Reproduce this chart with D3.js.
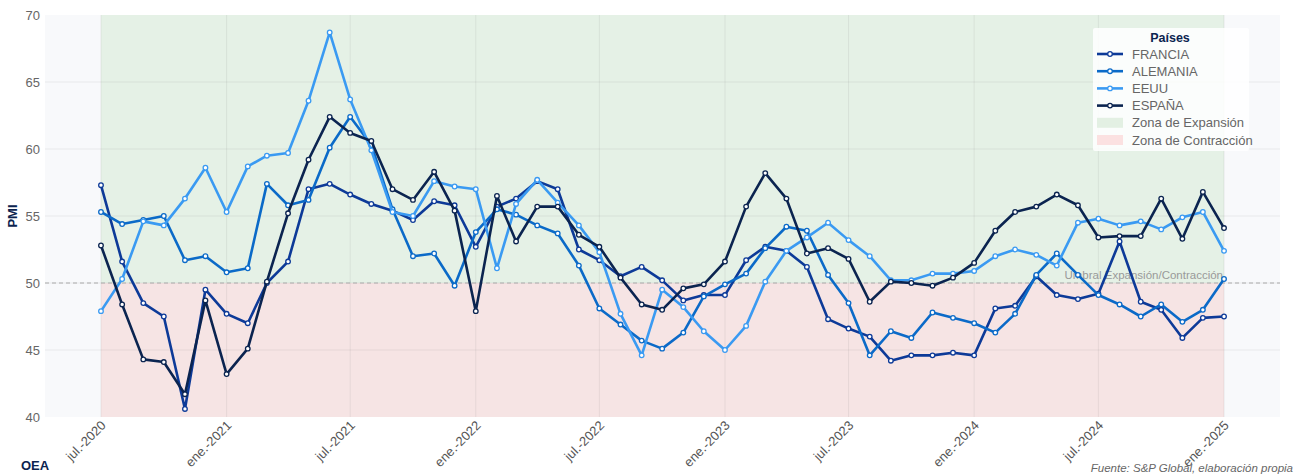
<!DOCTYPE html>
<html>
<head>
<meta charset="utf-8">
<script src="https://cdn.jsdelivr.net/npm/d3@7"></script>
<style>
  body { margin: 0; background: #fff; }
  svg { display: block; font-family: "Liberation Sans", Arial, sans-serif; }
</style>
</head>
<body>
<svg id="chart" width="1305" height="475"></svg>
<script>
// meses: jul-2020 .. ene-2025
const months = d3.utcMonth.range(new Date(Date.UTC(2020, 6, 1)), new Date(Date.UTC(2025, 1, 1)))

const francia = [57.3, 51.6, 48.5, 47.5, 40.6, 49.5, 47.7, 47.0, 50.0, 51.6, 57.0, 57.4, 56.6, 55.9, 55.4, 54.7, 56.1, 55.8, 52.7, 55.7, 56.3, 57.6, 57.0, 52.5, 51.7, 50.5, 51.2, 50.2, 48.7, 49.1, 49.1, 51.7, 52.7, 52.4, 51.2, 47.3, 46.6, 46.0, 44.2, 44.6, 44.6, 44.8, 44.6, 48.1, 48.3, 50.5, 49.1, 48.8, 49.2, 53.1, 48.6, 48.0, 45.9, 47.4, 47.5]
const alemania = [55.3, 54.4, 54.7, 55.0, 51.7, 52.0, 50.8, 51.1, 57.4, 55.8, 56.2, 60.1, 62.4, 60.3, 55.5, 52.0, 52.2, 49.8, 53.8, 55.5, 55.1, 54.3, 53.7, 51.3, 48.1, 46.9, 45.7, 45.1, 46.3, 49.0, 49.9, 50.7, 52.6, 54.2, 53.9, 50.6, 48.5, 44.6, 46.4, 45.9, 47.8, 47.4, 47.0, 46.3, 47.7, 50.6, 52.2, 50.6, 49.1, 48.4, 47.5, 48.4, 47.1, 48.0, 50.3]
const eeuu = [47.9, 50.3, 54.6, 54.3, 56.3, 58.6, 55.3, 58.7, 59.5, 59.7, 63.6, 68.7, 63.7, 59.9, 55.3, 55.0, 57.6, 57.2, 57.0, 51.1, 55.9, 57.7, 56.0, 54.3, 52.3, 47.7, 44.6, 49.5, 48.2, 46.4, 45.0, 46.8, 50.1, 52.4, 53.4, 54.5, 53.2, 52.0, 50.2, 50.2, 50.7, 50.7, 50.9, 52.0, 52.5, 52.1, 51.3, 54.5, 54.8, 54.3, 54.6, 54.0, 54.9, 55.3, 52.4]
const espana = [52.8, 48.4, 44.3, 44.1, 41.7, 48.7, 43.2, 45.1, 50.1, 55.2, 59.2, 62.4, 61.2, 60.6, 57.0, 56.2, 58.3, 55.4, 47.9, 56.5, 53.1, 55.7, 55.7, 53.6, 52.7, 50.4, 48.4, 48.0, 49.6, 49.9, 51.6, 55.7, 58.2, 56.3, 52.2, 52.6, 51.8, 48.6, 50.1, 50.0, 49.8, 50.4, 51.5, 53.9, 55.3, 55.7, 56.6, 55.8, 53.4, 53.5, 53.5, 56.3, 53.3, 56.8, 54.1]

const seriesNames = ['FRANCIA', 'ALEMANIA', 'EEUU', 'ESPAÑA']
const seriesValues = [francia, alemania, eeuu, espana]
const colors = ['#0d3a98', '#0b6ac8', '#3a9af2', '#0b2450']

const yTicks = [40, 45, 50, 55, 60, 65, 70]
const xTickLabels = ['jul.-2020', 'ene.-2021', 'jul.-2021', 'ene.-2022', 'jul.-2022', 'ene.-2023', 'jul.-2023', 'ene.-2024', 'jul.-2024', 'ene.-2025']
const umbral = 50

const svg = d3.select('#chart')
const plot = {left: 45, right: 1280, top: 15, bottom: 417}

const x = d3.scaleUtc()
  .domain([new Date(Date.UTC(2020, 3, 10)), new Date(Date.UTC(2025, 2, 24))])
  .range([plot.left, plot.right])
const y = d3.scaleLinear().domain([40, 70]).range([plot.bottom, plot.top])

const xTicks = months.filter((d, i) => i % 6 === 0)

// fondo del area
svg.append('rect')
  .attr('x', plot.left).attr('y', plot.top)
  .attr('width', plot.right - plot.left).attr('height', plot.bottom - plot.top)
  .attr('fill', '#f8f9fb')

const x0 = x(months[0])
const x1 = x(months[months.length - 1])
svg.append('rect')
  .attr('x', x0).attr('y', y(70)).attr('width', x1 - x0).attr('height', y(umbral) - y(70))
  .attr('fill', '#e5f1e6')
svg.append('rect')
  .attr('x', x0).attr('y', y(umbral)).attr('width', x1 - x0).attr('height', y(40) - y(umbral))
  .attr('fill', '#f6e4e4')

// grid
svg.append('g')
  .selectAll('line')
  .data(yTicks.slice(1, -1))
  .join('line')
  .attr('x1', plot.left).attr('x2', plot.right)
  .attr('y1', d => y(d)).attr('y2', d => y(d))
  .attr('stroke', 'rgba(120,120,120,0.12)')
svg.append('g')
  .selectAll('line')
  .data(xTicks)
  .join('line')
  .attr('x1', d => x(d)).attr('x2', d => x(d))
  .attr('y1', plot.top).attr('y2', plot.bottom)
  .attr('stroke', 'rgba(120,120,120,0.12)')

// umbral
svg.append('line')
  .attr('x1', plot.left).attr('x2', plot.right)
  .attr('y1', y(umbral)).attr('y2', y(umbral))
  .attr('stroke', '#aaa').attr('stroke-width', 1).attr('stroke-dasharray', '4,3')
svg.append('text')
  .attr('x', x1 - 1).attr('y', y(umbral) - 4)
  .attr('text-anchor', 'end')
  .attr('font-size', 11.5).attr('fill', '#999')
  .text('Umbral Expansión/Contracción')

// ejes
const yAxis = svg.append('g')
  .attr('transform', `translate(${plot.left},0)`)
  .call(d3.axisLeft(y).tickValues(yTicks).tickSize(0).tickPadding(5))
yAxis.select('.domain').remove()
yAxis.selectAll('text').attr('font-size', 13).attr('fill', '#666').attr('font-family', null)

const xAxis = svg.append('g')
  .attr('transform', `translate(0,${plot.bottom})`)
  .call(d3.axisBottom(x).tickValues(xTicks).tickSize(0).tickFormat((d, i) => xTickLabels[i]))
xAxis.select('.domain').remove()
xAxis.selectAll('text')
  .attr('font-size', 13).attr('fill', '#555').attr('font-family', null)
  .attr('text-anchor', 'end')
  .attr('transform', 'translate(2,6) rotate(-45)')
  .attr('dy', '0.35em').attr('y', 0)

svg.append('text')
  .attr('transform', `translate(17,${(plot.top + plot.bottom) / 2}) rotate(-90)`)
  .attr('text-anchor', 'middle')
  .attr('font-size', 13).attr('font-weight', 'bold').attr('fill', '#0b2450')
  .text('PMI')

// series
const line = d3.line().x((d, i) => x(months[i])).y(d => y(d))
seriesValues.forEach((vals, k) => {
  const g = svg.append('g')
  g.append('path')
    .datum(vals)
    .attr('d', line)
    .attr('fill', 'none')
    .attr('stroke', colors[k])
    .attr('stroke-width', 2.6)
    .attr('stroke-linejoin', 'round')
  g.selectAll('circle')
    .data(vals)
    .join('circle')
    .attr('cx', (d, i) => x(months[i]))
    .attr('cy', d => y(d))
    .attr('r', 2.3)
    .attr('fill', '#fff')
    .attr('stroke', colors[k])
    .attr('stroke-width', 1.3)
})

// leyenda
const lg = svg.append('g').attr('transform', 'translate(1093,28)')
lg.append('rect')
  .attr('width', 156).attr('height', 123).attr('rx', 2)
  .attr('fill', 'rgba(255,255,255,0.85)')
lg.append('text')
  .attr('x', 77).attr('y', 14)
  .attr('text-anchor', 'middle')
  .attr('font-size', 12.5).attr('font-weight', 'bold').attr('fill', '#0b2450')
  .text('Países')
seriesNames.forEach((name, k) => {
  const yy = 26 + k * 17.2
  lg.append('line')
    .attr('x1', 4).attr('x2', 30).attr('y1', yy).attr('y2', yy)
    .attr('stroke', colors[k]).attr('stroke-width', 2.6)
  lg.append('circle')
    .attr('cx', 17).attr('cy', yy).attr('r', 2.3)
    .attr('fill', '#fff').attr('stroke', colors[k]).attr('stroke-width', 1.3)
  lg.append('text')
    .attr('x', 39).attr('y', yy).attr('dy', '0.35em')
    .attr('font-size', 13).attr('fill', '#666')
    .text(name)
})
const zonas = [['Zona de Expansión', '#e3f0e3'], ['Zona de Contracción', '#fbe1e1']]
zonas.forEach(([name, c], k) => {
  const yy = 26 + (4 + k) * 17.2
  lg.append('rect')
    .attr('x', 4).attr('y', yy - 5).attr('width', 26).attr('height', 10)
    .attr('fill', c)
  lg.append('text')
    .attr('x', 39).attr('y', yy).attr('dy', '0.35em')
    .attr('font-size', 13).attr('fill', '#666')
    .text(name)
})

// pie
svg.append('text')
  .attr('x', 21).attr('y', 470)
  .attr('font-size', 13).attr('font-weight', 'bold').attr('fill', '#0b2450')
  .text('OEA')
svg.append('text')
  .attr('x', 1293).attr('y', 472)
  .attr('text-anchor', 'end')
  .attr('font-size', 11.5).attr('font-style', 'italic').attr('fill', '#666')
  .text('Fuente: S&P Global, elaboración propia')
</script>
</body>
</html>
